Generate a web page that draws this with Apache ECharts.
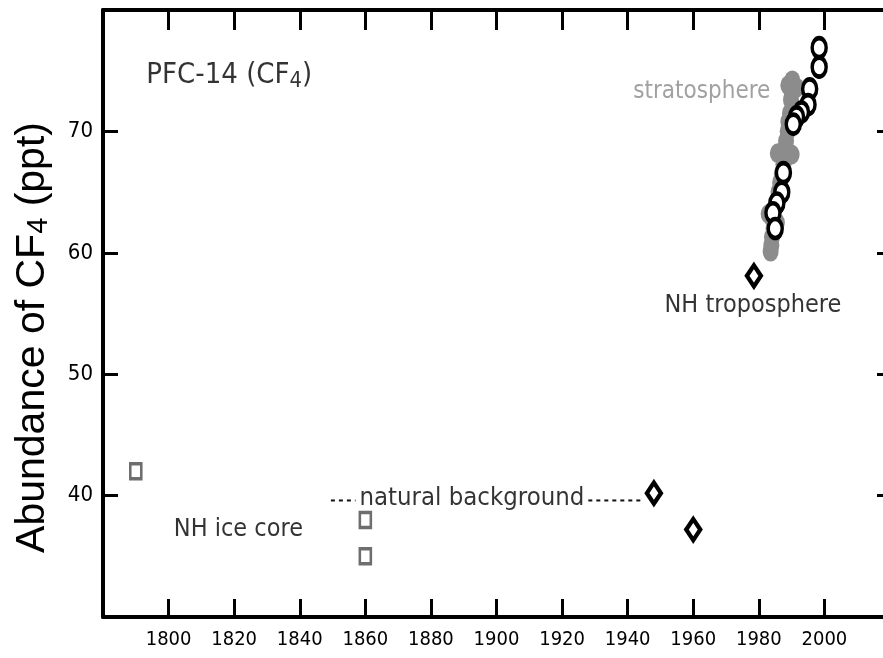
<!DOCTYPE html>
<html>
<head>
<meta charset="utf-8">
<title>PFC-14 (CF4)</title>
<script src="https://cdn.jsdelivr.net/npm/echarts@6/dist/echarts.min.js"></script>
<style>
html, body { margin: 0; padding: 0; background: #fff; }
#main { width: 883px; height: 658px; }
</style>
</head>
<body>
<div id="main"></div>
<script>
// axis ticks
var xTicks = [1800, 1820, 1840, 1860, 1880, 1900, 1920, 1940, 1960, 1980, 2000];
var yTicks = [40, 50, 60, 70];

// NH ice core (squares)
var iceCore = [[1790, 42], [1860, 38], [1860, 35]];
// early troposphere samples (diamonds)
var oldTropo = [[1948, 40.2], [1960, 37.2], [1978.5, 58.1]];
// NH troposphere (open circles)
var tropo = [
    [1998.4, 76.9], [1998.4, 75.3], [1995.5, 73.5], [1995, 72.2], [1993, 71.6],
    [1991.5, 71.2], [1990.5, 70.6], [1987.5, 66.6], [1987, 65.0], [1985.5, 64.1],
    [1984.3, 63.3], [1985, 62.0]
];
// stratosphere (grey band)
var strato = [
    [1990.2, 74.2], [1989, 73.8], [1991.5, 73.6], [1990, 73.2], [1989.8, 72.6],
    [1990.5, 72.0], [1989.5, 71.5], [1989, 70.8], [1988.8, 70.0], [1988.3, 69.2],
    [1988, 68.6], [1985.8, 68.2], [1987, 68.0], [1988.8, 68.0], [1990, 68.1],
    [1987.5, 67.3], [1987, 66.5], [1986.5, 65.8], [1986, 65.0], [1985.5, 64.2],
    [1984.5, 63.5], [1983, 63.2], [1984.2, 62.8], [1985.5, 62.5], [1984.5, 62.0],
    [1984, 61.3], [1983.8, 60.6], [1983.6, 60.1]
];
// natural background dashes
var natBgLeft = [[1849.5, 39.6], [1857, 39.6]];
var natBgRight = [[1928, 39.6], [1945, 39.6]];

var narrow = "'Liberation Sans Narrow', 'Arial Narrow', 'DejaVu Sans Condensed', sans-serif";

// text notes: [x, y, text, colour, font size]
var notes = [
    [1818.5, 74.6, '{a|PFC-14 (CF}{s|4}{a|)}', '#000', 29],
    [1962.6, 73.3, '{a|stratosphere}', '#8a8a8a', 24],
    [1978.2, 55.7, '{a|NH troposphere}', '#000', 25],
    [1821.3, 37.2, '{a|NH ice core}', '#000', 25],
    [1892.5, 39.8, '{a|natural background}', '#000', 25.5]
];

var noteData = notes.map(function (n) {
    return {
        value: [n[0], n[1]],
        label: {
            formatter: n[2],
            color: n[3],
            rich: {
                a: { fontFamily: narrow, fontSize: n[4], color: n[3], lineHeight: n[4] + 5 },
                s: { fontFamily: narrow, fontSize: n[4] * 0.75, color: n[3], lineHeight: n[4] * 0.8, verticalAlign: 'bottom' }
            }
        }
    };
});

var axisLine = { show: true, lineStyle: { color: '#000', width: 4 } };

var option = {
    animation: false,
    backgroundColor: '#fff',
    grid: { left: 103, right: -7, top: 10, bottom: 41, outerBoundsMode: 'none' },
    xAxis: [{
        type: 'value', position: 'bottom', min: 1780, max: 2020, interval: 20,
        axisLine: axisLine,
        axisTick: { inside: true, length: 18, lineStyle: { color: '#000', width: 3 } },
        axisLabel: {
            margin: 13, fontFamily: narrow, fontSize: 20, color: '#000',
            formatter: function (v) { return xTicks.indexOf(v) >= 0 ? String(v) : ''; }
        },
        splitLine: { show: false }
    }, {
        type: 'value', position: 'top', min: 1780, max: 2020, interval: 20,
        axisLine: axisLine,
        axisTick: { inside: true, length: 20, lineStyle: { color: '#000', width: 3 } },
        axisLabel: { show: false },
        splitLine: { show: false }
    }],
    yAxis: [{
        type: 'value', position: 'left', min: 30, max: 80, interval: 10,
        axisLine: axisLine,
        axisTick: { inside: true, length: 15, lineStyle: { color: '#000', width: 3 } },
        axisLabel: {
            margin: 10, fontFamily: narrow, fontSize: 22, color: '#000',
            formatter: function (v) { return yTicks.indexOf(v) >= 0 ? String(v) : ''; }
        },
        splitLine: { show: false },
        name: '{a|Abundance of CF}{s|4}{a| (ppt)}',
        nameLocation: 'middle',
        nameRotate: 90,
        nameGap: 50,
        nameTextStyle: {
            padding: [0, 48, 0, 0],
            rich: {
                a: { fontFamily: "'Liberation Sans', Arial, sans-serif", fontSize: 41, color: '#000', lineHeight: 40 },
                s: { fontFamily: "'Liberation Sans', Arial, sans-serif", fontSize: 29, color: '#000', lineHeight: 30, verticalAlign: 'bottom' }
            }
        }
    }, {
        type: 'value', position: 'right', min: 30, max: 80, interval: 10,
        axisLine: axisLine,
        axisTick: { inside: true, length: 13, lineStyle: { color: '#000', width: 3 } },
        axisLabel: { show: false },
        splitLine: { show: false }
    }],
    series: [{
        name: 'stratosphere',
        type: 'scatter',
        data: strato,
        symbol: 'circle',
        symbolSize: [16, 20],
        itemStyle: { color: '#8c8c8c', opacity: 1 },
        z: 2
    }, {
        name: 'NH troposphere',
        type: 'scatter',
        data: tropo,
        symbol: 'circle',
        symbolSize: [14, 19],
        itemStyle: { color: '#fff', borderColor: '#000', borderWidth: 4, opacity: 1 },
        z: 3
    }, {
        name: 'diamonds',
        type: 'scatter',
        data: oldTropo,
        symbol: 'diamond',
        symbolSize: [14, 21],
        itemStyle: { color: '#fff', borderColor: '#000', borderWidth: 4.5, opacity: 1 },
        z: 3
    }, {
        name: 'NH ice core',
        type: 'scatter',
        data: iceCore,
        symbol: 'rect',
        symbolSize: [11, 15],
        itemStyle: { color: '#fff', borderColor: '#6e6e6e', borderWidth: 3, opacity: 1 },
        z: 3
    }, {
        name: 'natural background',
        type: 'line',
        data: natBgLeft,
        symbol: 'none',
        lineStyle: { color: '#111', width: 2, type: [4, 4] },
        z: 2
    }, {
        name: 'natural background 2',
        type: 'line',
        data: natBgRight,
        symbol: 'none',
        lineStyle: { color: '#111', width: 2, type: [4, 4] },
        z: 2
    }, {
        name: 'notes',
        type: 'scatter',
        data: noteData,
        symbolSize: 0,
        silent: true,
        label: { show: true, position: 'inside' },
        z: 4
    }]
};

var myChart = echarts.init(document.getElementById('main'));
myChart.setOption(option);
</script>
</body>
</html>
